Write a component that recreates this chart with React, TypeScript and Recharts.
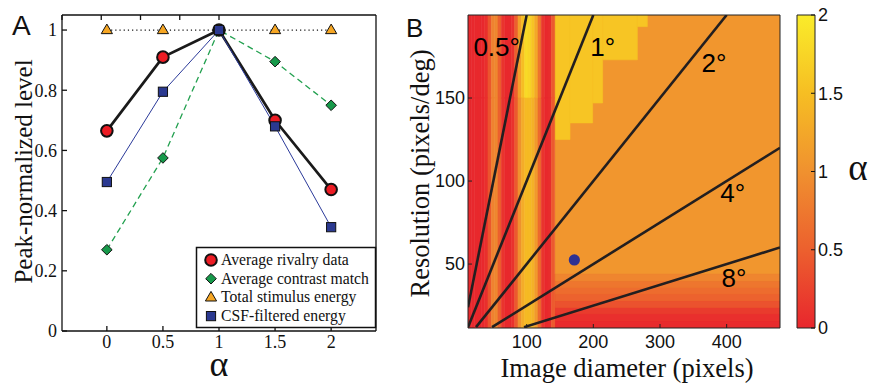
import React from 'react';
import {
  ComposedChart,
  Line,
  LineChart,
  ReferenceArea,
  ReferenceDot,
  Scatter,
  XAxis,
  YAxis,
} from 'recharts';

// ---------- panel A: peak-normalized level vs alpha ----------
const alphaValues = [0, 0.5, 1, 1.5, 2];
const rivalryData = [0.665, 0.91, 1.0, 0.7, 0.47];
const contrastMatch = [0.27, 0.575, 1.0, 0.895, 0.75];
const stimulusEnergy = [1, 1, 1, 1, 1];
const csfEnergy = [0.495, 0.795, 1.0, 0.68, 0.345];
const levelTicks = [0, 0.2, 0.4, 0.6, 0.8, 1];
const legendNames = [
  'Average rivalry data',
  'Average contrast match',
  'Total stimulus energy',
  'CSF-filtered energy',
];

// ---------- panel B: alpha map over image diameter x resolution ----------
const diameterTicks = [100, 200, 300, 400];
const resolutionTicks = [50, 100, 150];
const colorbarTicks = [0, 0.5, 1, 1.5, 2];

const angleNames = ['0.5°', '1°', '2°', '4°', '8°'];
const angleStart = [[12, 24], [12, 12], [24, 12], [48, 12], [96, 12]];
const angleEnd = [[100, 200], [200, 200], [400, 200], [480, 120], [480, 60]];
const angleLabelAt = [[55, 181], [214, 181], [381, 171], [409, 93], [411, 42]];
const viewPoint = [{ x: 171.5, y: 52.5 }];

// vertical stripes at small diameters (cell edges, alpha above / below y=150)
const stripeEdges = [12, 17, 22, 27, 32, 37, 42, 47, 52, 57, 62, 67, 72, 77, 82, 87, 92, 97, 102, 107, 112, 117, 122, 127, 132, 137, 142];
const stripeTop = [0.02, 0.02, 0.02, 0.02, 0.02, 0.08, 0.4, 0.85, 0.9, 0.5, 0.12, 0.02, 0.02, 0.1, 0.5, 1.15, 1.5, 1.8, 1.75, 1.55, 1.25, 0.7, 0.15, 0.02, 0.05, 0.45];
const stripeLow = [0.02, 0.02, 0.02, 0.02, 0.02, 0.08, 0.4, 0.85, 0.9, 0.5, 0.12, 0.02, 0.02, 0.1, 0.45, 1.0, 1.3, 1.45, 1.45, 1.35, 1.1, 0.6, 0.12, 0.02, 0.05, 0.45];
const stripeSplit = 150;

const baseAlpha = 1.05;
const yellowAlpha = 1.58;
const yellowLeft = [142, 165, 199, 214, 266];
const yellowRight = [165, 199, 214, 266, 281];
const yellowFloor = [125, 135, 147, 173, 193];

const floorRows = [11.5, 16, 20, 24, 28, 32, 36, 40, 44];
const floorAlpha = [0.04, 0.08, 0.18, 0.38, 0.52, 0.62, 0.72, 0.88];

const cmapLevels = [0, 0.5, 1, 1.5, 2];
const cmapColors = [
  [232, 38, 45],
  [236, 96, 46],
  [240, 145, 47],
  [246, 190, 35],
  [250, 236, 42],
];

const SERIF = 'Liberation Serif, Times New Roman, DejaVu Serif, serif';
const SANS = 'Liberation Sans, Arial, Helvetica, sans-serif';

const rgb = (c: number[]) => `rgb(${c[0]},${c[1]},${c[2]})`;

function alphaColor(v: number) {
  for (let i = 1; i < cmapLevels.length; i++) {
    if (v <= cmapLevels[i]) {
      const t = (v - cmapLevels[i - 1]) / (cmapLevels[i] - cmapLevels[i - 1]);
      const a = cmapColors[i - 1];
      const b = cmapColors[i];
      return rgb(a.map((ch, k) => Math.round(ch + (b[k] - ch) * t)));
    }
  }
  return rgb(cmapColors[cmapColors.length - 1]);
}

type MarkerKind = 'circle' | 'diamond' | 'triangle' | 'square';
const legendKinds: MarkerKind[] = ['circle', 'diamond', 'triangle', 'square'];

function Marker({ kind, cx, cy }: { kind: MarkerKind; cx: number; cy: number }) {
  if (kind === 'circle')
    return <circle cx={cx} cy={cy} r={5.8} fill='#ec1c24' stroke='#111' strokeWidth={2} />;
  if (kind === 'diamond') {
    const s = 5.3;
    return (
      <polygon
        points={`${cx},${cy - s} ${cx + s},${cy} ${cx},${cy + s} ${cx - s},${cy}`}
        fill='#16994a'
        stroke='#111'
        strokeWidth={1}
      />
    );
  }
  if (kind === 'triangle')
    return (
      <polygon
        points={`${cx},${cy - 6} ${cx + 5.6},${cy + 3.6} ${cx - 5.6},${cy + 3.6}`}
        fill='#f6a623'
        stroke='#111'
        strokeWidth={1}
      />
    );
  return <rect x={cx - 4.6} y={cy - 4.6} width={9.2} height={9.2} fill='#2b3990' stroke='#111' strokeWidth={1} />;
}

const dotOf = (kind: MarkerKind) => (p: any) =>
  <Marker key={`${kind}-${p.index}`} kind={kind} cx={p.cx} cy={p.cy} />;

const alphaRows = alphaValues.map((a, i) => ({
  alpha: a,
  rivalry: rivalryData[i],
  contrast: contrastMatch[i],
  total: stimulusEnergy[i],
  csf: csfEnergy[i],
}));

const blank = () => '';
const axisA = { stroke: '#111', strokeWidth: 1.3 };
const axisB = { stroke: '#222', strokeWidth: 1 };
const serifTick = { fontFamily: SERIF, fontSize: 18, fill: '#111', style: { fontFamily: SERIF } };
const sansTick = { fontFamily: SANS, fontSize: 18, fill: '#111', style: { fontFamily: SANS } };
const serifStyle = { fontFamily: SERIF };
const sansStyle = { fontFamily: SANS };

function PanelA() {
  return (
    <LineChart
      width={380}
      height={383}
      data={alphaRows}
      margin={{ top: 14, right: 3, bottom: 22, left: 0 }}
    >
      <XAxis
        xAxisId='x'
        type='number'
        dataKey='alpha'
        domain={[-0.4, 2.4]}
        ticks={alphaValues}
        interval={0}
        height={30}
        tickSize={-5}
        tickMargin={9}
        axisLine={axisA}
        tickLine={axisA}
        tick={serifTick}
      />
      <XAxis
        xAxisId='xt'
        orientation='top'
        type='number'
        domain={[-0.4, 2.4]}
        ticks={alphaValues}
        interval={0}
        height={1}
        tickSize={-5}
        tickFormatter={blank}
        axisLine={axisA}
        tickLine={axisA}
      />
      <YAxis
        yAxisId='y'
        type='number'
        domain={[0, 1.05]}
        ticks={levelTicks}
        interval={0}
        width={62}
        tickSize={-5}
        tickMargin={10}
        axisLine={axisA}
        tickLine={axisA}
        tick={serifTick}
      />
      <YAxis
        yAxisId='yr'
        orientation='right'
        type='number'
        domain={[0, 1.05]}
        ticks={levelTicks}
        interval={0}
        width={1}
        tickSize={-5}
        tickFormatter={blank}
        axisLine={axisA}
        tickLine={axisA}
      />
      <Line
        xAxisId='x'
        yAxisId='y'
        dataKey='rivalry'
        stroke='#1a1a1a'
        strokeWidth={2.7}
        dot={dotOf('circle')}
        activeDot={false}
        isAnimationActive={false}
      />
      <Line
        xAxisId='x'
        yAxisId='y'
        dataKey='contrast'
        stroke='#22a04f'
        strokeWidth={1.3}
        strokeDasharray='6 4'
        dot={dotOf('diamond')}
        activeDot={false}
        isAnimationActive={false}
      />
      <Line
        xAxisId='x'
        yAxisId='y'
        dataKey='total'
        stroke='#111'
        strokeWidth={1.2}
        strokeDasharray='1.2 3'
        dot={dotOf('triangle')}
        activeDot={false}
        isAnimationActive={false}
      />
      <Line
        xAxisId='x'
        yAxisId='y'
        dataKey='csf'
        stroke='#2b3a9a'
        strokeWidth={1}
        dot={dotOf('square')}
        activeDot={false}
        isAnimationActive={false}
      />
    </LineChart>
  );
}

function PanelB() {
  const area = (key: string, x1: number, x2: number, y1: number, y2: number, v: number) => {
    const c = alphaColor(v);
    return (
      <ReferenceArea
        key={key}
        xAxisId='x'
        yAxisId='y'
        x1={x1}
        x2={x2}
        y1={y1}
        y2={y2}
        fill={c}
        fillOpacity={1}
        stroke={c}
        strokeWidth={0.6}
        ifOverflow='hidden'
      />
    );
  };

  return (
    <ComposedChart width={410} height={383} margin={{ top: 14, right: 9, bottom: 25, left: 0 }}>
      <XAxis
        xAxisId='x'
        type='number'
        dataKey='x'
        domain={[12, 480]}
        ticks={diameterTicks}
        interval={0}
        allowDataOverflow
        height={30}
        tickSize={-4}
        tickMargin={11}
        axisLine={axisB}
        tickLine={axisB}
        tick={sansTick}
      />
      <XAxis
        xAxisId='xt'
        orientation='top'
        type='number'
        domain={[12, 480]}
        ticks={diameterTicks}
        interval={0}
        height={1}
        tickSize={-4}
        tickFormatter={blank}
        axisLine={axisB}
        tickLine={axisB}
      />
      <YAxis
        yAxisId='y'
        type='number'
        domain={[11.5, 200]}
        ticks={resolutionTicks}
        interval={0}
        allowDataOverflow
        width={88}
        tickSize={-4}
        tickMargin={7}
        axisLine={axisB}
        tickLine={axisB}
        tick={sansTick}
      />
      <YAxis
        yAxisId='yr'
        orientation='right'
        type='number'
        domain={[11.5, 200]}
        ticks={resolutionTicks}
        interval={0}
        width={1}
        tickSize={-4}
        tickFormatter={blank}
        axisLine={axisB}
        tickLine={axisB}
      />

      {area('base', 142, 480, 11.5, 200, baseAlpha)}
      {yellowLeft.map((x0, i) => area(`yel${i}`, x0, yellowRight[i], yellowFloor[i], 200, yellowAlpha))}
      {floorAlpha.map((v, i) => area(`floor${i}`, 142, 480, floorRows[i], floorRows[i + 1], v))}
      {stripeTop.map((v, i) =>
        area(`st${i}`, stripeEdges[i], stripeEdges[i + 1], stripeSplit, 200, v)
      )}
      {stripeLow.map((v, i) =>
        area(`sl${i}`, stripeEdges[i], stripeEdges[i + 1], 11.5, stripeSplit, v)
      )}

      {angleNames.map((name, i) => (
        <Line
          key={name}
          xAxisId='x'
          yAxisId='y'
          data={[
            { x: angleStart[i][0], y: angleStart[i][1] },
            { x: angleEnd[i][0], y: angleEnd[i][1] },
          ]}
          dataKey='y'
          type='linear'
          stroke='#231f20'
          strokeWidth={2.6}
          dot={false}
          activeDot={false}
          isAnimationActive={false}
        />
      ))}
      <Scatter
        xAxisId='x'
        yAxisId='y'
        data={viewPoint}
        dataKey='y'
        isAnimationActive={false}
        shape={(p: any) => <circle cx={p.cx} cy={p.cy} r={5.6} fill='#2e3192' />}
      />
      {angleNames.map((name, i) => (
        <ReferenceDot
          key={`lab-${name}`}
          xAxisId='x'
          yAxisId='y'
          x={angleLabelAt[i][0]}
          y={angleLabelAt[i][1]}
          r={0}
          fill='none'
          stroke='none'
          label={{ value: name, position: 'center', fontSize: 26, fontFamily: SANS, fill: '#000', style: sansStyle }}
        />
      ))}
    </ComposedChart>
  );
}

// the colour bar: one gradient-filled box on an alpha axis
const barAnchor = [{ x: 0.5, a: 1 }];

function ColorBar() {
  return (
    <ComposedChart
      width={80}
      height={383}
      data={barAnchor}
      margin={{ top: 15, right: 0, bottom: 55, left: 7 }}
    >
      <defs>
        <linearGradient id='alphaBar' x1='0' y1='1' x2='0' y2='0'>
          {cmapLevels.map((v, i) => (
            <stop key={v} offset={v / 2} stopColor={rgb(cmapColors[i])} />
          ))}
        </linearGradient>
      </defs>
      <XAxis type='number' dataKey='x' domain={[0, 1]} hide />
      <YAxis
        orientation='right'
        type='number'
        domain={[0, 2]}
        ticks={colorbarTicks}
        interval={0}
        width={55}
        tickSize={-4}
        tickMargin={7}
        axisLine={false}
        tickLine={{ stroke: '#111' }}
        tick={sansTick}
      />
      <ReferenceArea
        x1={0}
        x2={1}
        y1={0}
        y2={2}
        fill='url(#alphaBar)'
        fillOpacity={1}
        stroke='#222'
        strokeWidth={1}
      />
      <Scatter dataKey='a' isAnimationActive={false} shape={() => <g />} />
    </ComposedChart>
  );
}

export default function App() {
  return (
    <div style={{ position: 'absolute', left: 0, top: 0, width: 870, height: 383, background: '#fff' }}>
      <div style={{ position: 'absolute', left: 0, top: 0 }}>
        <PanelA />
      </div>
      <div style={{ position: 'absolute', left: 380, top: 0 }}>
        <PanelB />
      </div>
      <div style={{ position: 'absolute', left: 790, top: 0 }}>
        <ColorBar />
      </div>
      <svg
        width={870}
        height={383}
        style={{ position: 'absolute', left: 0, top: 0, pointerEvents: 'none' }}
      >
        <text x={12} y={35} style={sansStyle} fontSize={28} fill='#111'>A</text>
        <text x={406} y={37} style={sansStyle} fontSize={26} fill='#111'>B</text>

        <text
          x={32}
          y={171.5}
          transform='rotate(-90 32 171.5)'
          textAnchor='middle'
          style={serifStyle}
          fontSize={25}
          fill='#111'
        >
          Peak-normalized level
        </text>
        <text x={219} y={376} textAnchor='middle' style={serifStyle} fontSize={36} fill='#111'>α</text>

        <text
          x={429}
          y={173.5}
          transform='rotate(-90 429 173.5)'
          textAnchor='middle'
          style={serifStyle}
          fontSize={26.5}
          fill='#111'
        >
          Resolution (pixels/deg)
        </text>
        <text x={627} y={376.5} textAnchor='middle' style={serifStyle} fontSize={26.5} fill='#111'>
          Image diameter (pixels)
        </text>
        <text x={858} y={180} textAnchor='middle' style={serifStyle} fontSize={37} fill='#111'>α</text>

        {/* legend of panel A */}
        <rect x={196.5} y={247.5} width={179} height={80} fill='#fff' stroke='#111' strokeWidth={1.5} />
        {legendNames.map((name, i) => (
          <g key={name}>
            <Marker kind={legendKinds[i]} cx={211} cy={260 + i * 18.7} />
            <text x={221} y={265 + i * 18.7} style={serifStyle} fontSize={15.7} fill='#111'>
              {name}
            </text>
          </g>
        ))}
      </svg>
    </div>
  );
}
